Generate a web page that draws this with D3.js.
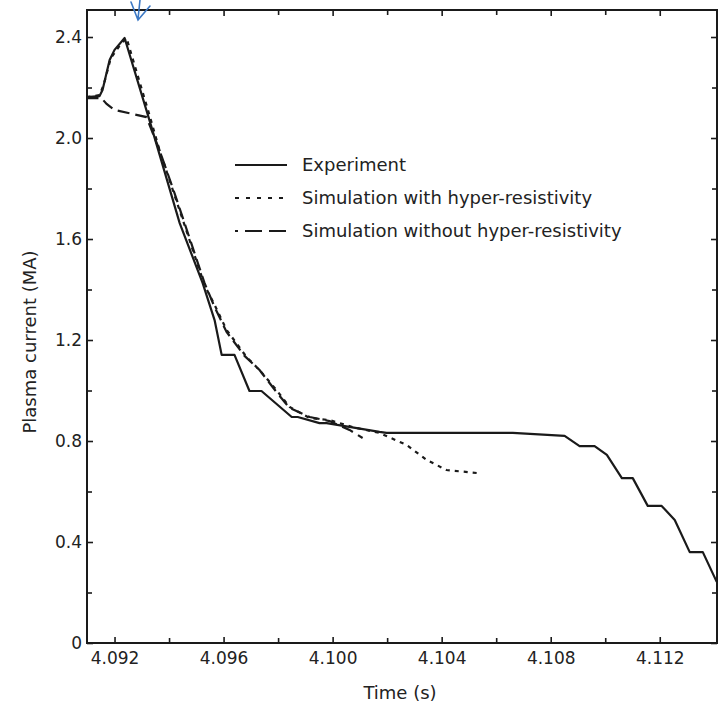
<!DOCTYPE html>
<html>
<head>
<meta charset="utf-8">
<script src="https://cdn.jsdelivr.net/npm/d3@7"></script>
<style>
  body { margin: 0; background: #fff; }
  text { font-family: "DejaVu Sans", sans-serif; fill: #222; }
</style>
</head>
<body>
<div id="chart"></div>
<script>
// experiment (solid)
var expTime = [4.09097, 4.09145, 4.09156, 4.09182, 4.0920, 4.09237, 4.09328, 4.09439, 4.09523, 4.09567,
    4.09593, 4.09640, 4.09695, 4.09739, 4.09850, 4.09872, 4.09952, 4.09978, 4.10172, 4.10198,
    4.10440, 4.10661, 4.10851, 4.10906, 4.10961, 4.11006, 4.11061, 4.11101, 4.11156, 4.11207,
    4.11255, 4.11310, 4.11358, 4.11409];
var expCurrent = [2.162, 2.166, 2.190, 2.309, 2.349, 2.396, 2.071, 1.663, 1.426, 1.279,
    1.141, 1.141, 0.998, 0.998, 0.895, 0.895, 0.871, 0.871, 0.836, 0.832,
    0.832, 0.832, 0.820, 0.780, 0.780, 0.745, 0.653, 0.653, 0.543, 0.543,
    0.487, 0.360, 0.360, 0.242];

// simulation with hyper-resistivity (dotted)
var hyperTime = [4.09097, 4.09145, 4.09160, 4.09186, 4.09215, 4.09244, 4.09328, 4.09365, 4.09420, 4.09475,
    4.09530, 4.09567, 4.09611, 4.09684, 4.09732, 4.09794, 4.09842, 4.09916, 4.09989, 4.10073,
    4.10172, 4.10272, 4.10345, 4.10418, 4.10532];
var hyperCurrent = [2.162, 2.170, 2.210, 2.315, 2.360, 2.396, 2.091, 1.952, 1.774, 1.596,
    1.418, 1.339, 1.240, 1.133, 1.081, 1.002, 0.935, 0.891, 0.883, 0.855,
    0.832, 0.784, 0.725, 0.685, 0.673];

// simulation without hyper-resistivity (dashed)
var noHyperTime = [4.09097, 4.09152, 4.09171, 4.09200, 4.09317, 4.09365, 4.09420, 4.09475, 4.09530, 4.09567,
    4.09611, 4.09677, 4.09732, 4.09794, 4.09842, 4.09916, 4.09989, 4.10062, 4.10110];
var noHyperCurrent = [2.158, 2.158, 2.135, 2.111, 2.083, 1.952, 1.782, 1.604, 1.426, 1.331,
    1.232, 1.137, 1.081, 0.994, 0.931, 0.895, 0.879, 0.844, 0.812];

var xTicks = [4.092, 4.096, 4.100, 4.104, 4.108, 4.112];
var xMinor = [4.094, 4.098, 4.102, 4.106, 4.110];
var yTicks = [0, 0.4, 0.8, 1.2, 1.6, 2.0, 2.4];
var yMinor = [0.2, 0.6, 1.0, 1.4, 1.8, 2.2];
var legendLabels = ["Experiment", "Simulation with hyper-resistivity", "Simulation without hyper-resistivity"];

var width = 719, height = 703;
var margin = {left: 87, top: 10, right: 2, bottom: 60};

var svg = d3.select("#chart").append("svg")
    .attr("width", width)
    .attr("height", height);

var x = d3.scaleLinear().domain([4.09099, 4.11410]).range([margin.left, width - margin.right]);
var y = d3.scaleLinear().domain([0, 2.507]).range([height - margin.bottom, margin.top]);

var ink = "#1a1a1a";

// ticks pointing inward on all four sides
function drawAxis(gen, tr, major, minor, fmt, pad) {
    var g = svg.append("g").attr("transform", tr)
        .call(gen.tickValues(major).tickSize(-6).tickPadding(pad).tickFormat(fmt));
    g.select(".domain").remove();
    g.selectAll("line").attr("stroke", ink).attr("stroke-width", 1.6);
    g.selectAll("text").style("font-size", "17px").attr("fill", ink);
    var g2 = svg.append("g").attr("transform", tr)
        .call(gen.tickValues(minor).tickSize(-5).tickFormat(""));
    g2.select(".domain").remove();
    g2.selectAll("line").attr("stroke", ink).attr("stroke-width", 1.6);
}

var yFmt = function(d) { return d === 0 ? "0" : d3.format(".1f")(d); };
drawAxis(d3.axisBottom(x), "translate(0," + y(0) + ")", xTicks, xMinor, d3.format(".3f"), 9);
drawAxis(d3.axisTop(x), "translate(0," + margin.top + ")", xTicks, xMinor, "", 0);
drawAxis(d3.axisLeft(y), "translate(" + margin.left + ",0)", yTicks, yMinor, yFmt, 5);
drawAxis(d3.axisRight(y), "translate(" + (width - margin.right) + ",0)", yTicks, yMinor, "", 0);

// frame
svg.append("rect")
    .attr("x", margin.left).attr("y", margin.top)
    .attr("width", width - margin.right - margin.left)
    .attr("height", y(0) - margin.top)
    .attr("fill", "none").attr("stroke", ink).attr("stroke-width", 2);

var line = d3.line().x(d => x(d[0])).y(d => y(d[1]));

function pairs(t, v) { return t.map((d, i) => [d, v[i]]); }

svg.append("path").datum(pairs(noHyperTime, noHyperCurrent))
    .attr("d", line).attr("fill", "none").attr("stroke", ink)
    .attr("stroke-width", 2.2).attr("stroke-dasharray", "12,6");

svg.append("path").datum(pairs(hyperTime, hyperCurrent))
    .attr("d", line).attr("fill", "none").attr("stroke", ink)
    .attr("stroke-width", 2.2).attr("stroke-dasharray", "4,5");

svg.append("path").datum(pairs(expTime, expCurrent))
    .attr("d", line).attr("fill", "none").attr("stroke", ink)
    .attr("stroke-width", 2.2).attr("stroke-linejoin", "round");

// legend
var dashes = [null, "4,7", "17,7"];
var offsets = [0, 0, 14];
var legY = [165, 198, 231];
legendLabels.forEach(function(lab, i) {
    svg.append("line")
        .attr("x1", 235).attr("x2", 287)
        .attr("y1", legY[i]).attr("y2", legY[i])
        .attr("stroke", ink).attr("stroke-width", 2.2)
        .attr("stroke-dasharray", dashes[i])
        .attr("stroke-dashoffset", offsets[i]);
    svg.append("text")
        .attr("x", 302).attr("y", legY[i])
        .attr("dy", "0.35em")
        .style("font-size", "18px")
        .text(lab);
});

// axis titles
svg.append("text")
    .attr("x", 400)
    .attr("y", 693)
    .attr("dy", "0.35em")
    .attr("text-anchor", "middle")
    .style("font-size", "18px")
    .text("Time (s)");

svg.append("text")
    .attr("transform", "translate(30,342) rotate(-90)")
    .attr("dy", "0.35em")
    .attr("text-anchor", "middle")
    .style("font-size", "18px")
    .text("Plasma current (MA)");

// blue hand-drawn arrow marker at the top
svg.append("path")
    .attr("d", "M140,0 L138,19 M131,2 L138,20 L150,6")
    .attr("fill", "none")
    .attr("stroke", "#3b78c4")
    .attr("stroke-width", 1.6)
    .attr("stroke-linecap", "round");
</script>
</body>
</html>
